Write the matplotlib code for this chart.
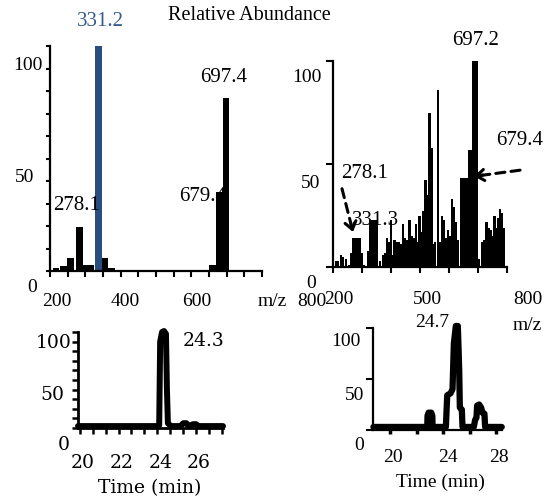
import matplotlib
matplotlib.use("Agg")
import matplotlib.pyplot as plt
import matplotlib.transforms as mtransforms
import numpy as np

plt.rcParams['font.family'] = 'Liberation Serif'

# panel A: product ion spectrum (precursor 331.2 highlighted)
a_mz = [217, 238, 259, 283, 300, 316, 356, 375, 395, 630, 660, 679, 698]
a_int = [1.3, 2.2, 6, 19.5, 2.7, 2.7, 6, 1.3, 0.5, 0.6, 2.7, 35, 77]
a_prec_mz = [336]
a_prec_int = [100]

# panel B: full spectrum
b_mz = [210, 218, 227, 235, 245, 256, 264, 271, 278, 285, 292, 299, 305,
        321, 329, 337, 344, 351, 361, 372, 378, 386, 393, 401, 406, 412,
        418, 426, 433, 441, 448, 455, 464, 471, 478, 485, 492, 498, 505,
        512, 519, 526, 533, 540, 547, 553, 562, 569, 576, 583, 590, 597,
        603, 610, 617, 624, 631, 641, 648, 655, 662, 670, 676, 683, 690,
        697, 704, 713, 720, 729, 736, 743, 750, 757, 763, 770, 777, 784, 791]
b_int = [3, 3, 6, 5, 4, 1, 7, 14, 14, 14, 14, 7, 1,
         8, 23, 23, 23, 23, 3, 6, 7, 14, 12, 23, 6, 13,
         12, 12, 11, 21, 14, 13, 23, 15, 14, 21, 12, 25, 17,
         27, 42, 35, 75, 58, 11, 12, 86, 12, 25, 23, 14, 18,
         15, 33, 29, 22, 13, 43, 43, 43, 43, 57, 57, 100, 100,
         100, 4, 12, 13, 22, 19, 18, 15, 25, 19, 24, 28, 26, 19]

# panel C: extracted ion chromatogram 24.3 min
c_time = [19.9, 24.0, 24.1, 24.15, 24.25, 24.35, 24.45, 24.5, 24.55, 24.7,
          25.2, 25.35, 25.5, 25.65, 25.85, 26.0, 26.15, 27.4]
c_int = [2, 2, 3, 90, 100, 101, 98, 40, 5, 2,
         2, 5, 5, 2, 4, 4, 2, 2]

# panel D: chromatogram 24.7 min
d_time = [18.75, 22.8, 22.82, 22.9, 23.1, 23.18, 23.2, 24.2, 24.3, 24.55,
          24.7, 24.8, 24.95, 25.1, 25.2, 25.25, 25.4, 25.45, 26.3, 26.4,
          26.5, 26.55, 26.7, 26.85, 26.95, 27.1, 27.15, 28.4]
d_int = [3, 3, 14, 17, 17, 14, 3, 3, 34, 36,
         40, 85, 102, 102, 60, 22, 20, 3, 3, 10,
         12, 24, 25, 22, 17, 16, 3, 3]

W, H = 547, 499
fig = plt.figure(figsize=(W / 100, H / 100), dpi=100)


def px_axes(x0, y0, x1, y1):
    ax = fig.add_axes([x0 / W, 1 - y1 / H, (x1 - x0) / W, (y1 - y0) / H])
    ax.spines['top'].set_visible(False)
    ax.spines['right'].set_visible(False)
    return ax


def put(ax, x, y, s, dx=0, dy=0, trans=None, **kw):
    base = ax.transData if trans is None else trans
    tr = mtransforms.offset_copy(base, fig=fig, x=dx, y=dy, units='dots')
    kw.setdefault('ha', 'center')
    kw.setdefault('va', 'center')
    return ax.text(x, y, s, transform=tr, clip_on=False, **kw)


def ticklabels(ax, xlabels, ylabels, **kw):
    for val, dx, dy in xlabels:
        put(ax, val, 0, str(val), dx, dy, trans=ax.get_xaxis_transform(), **kw)
    for val, dx, dy in ylabels:
        put(ax, 0, val, str(val), dx, dy, trans=ax.get_yaxis_transform(), **kw)


def dashed_arrow(ax, start, end):
    ax.annotate('', xy=end, xytext=start, zorder=5,
                arrowprops=dict(arrowstyle='-', linestyle=(0, (3, 2)), lw=2.2,
                                color='black', shrinkA=0, shrinkB=0))
    back = (end[0] + 0.2 * (start[0] - end[0]), end[1] + 0.2 * (start[1] - end[1]))
    ax.annotate('', xy=end, xytext=back, zorder=5,
                arrowprops=dict(arrowstyle='->,head_length=0.55,head_width=0.4',
                                lw=2.2, color='black', shrinkA=0, shrinkB=0))


# ---- A
axA = px_axes(50, 46, 262, 271)
axA.bar(a_mz, a_int, width=19, color='black', zorder=2)
axA.bar(a_prec_mz, a_prec_int, width=20, color='#2b4c7e', zorder=2)
axA.set_xlim(200, 800)
axA.set_ylim(0, 100)
axA.set_xticks(np.arange(200, 801, 50))
axA.set_yticks(np.arange(0, 101, 10))
axA.set_xticklabels([])
axA.set_yticklabels([])
axA.tick_params(axis='x', length=4, width=1.5)
axA.tick_params(axis='y', length=3, width=1.5)
for s in ['left', 'bottom']:
    axA.spines[s].set_linewidth(1.6)
ticklabels(axA, [(200, 7, -31), (400, 5, -31), (600, 5, -31), (800, 50, -31)],
           [(100, -22, -19), (50, -25, -19), (0, -18, -17)], fontsize=14)
put(axA, 800, 0, 'm/z', 10, -31, trans=axA.get_xaxis_transform(), fontsize=14)
put(axA, 344, 110.7, '331.2', color='#355a8c', fontsize=15)
put(axA, 690, 85.8, '697.4', fontsize=15)
put(axA, 633, 32.9, '679.4', fontsize=15, zorder=1)
put(axA, 276, 29.3, '278.1', fontsize=15)

# ---- B
axB = px_axes(333, 61, 507, 267)
axB.bar(b_mz, b_int, width=7.6, color='black', linewidth=0, zorder=2)
axB.set_xlim(200, 800)
axB.set_ylim(0, 100)
axB.set_xticks(np.arange(200, 801, 100))
axB.set_yticks([0, 50, 100])
axB.set_xticklabels([])
axB.set_yticklabels([])
axB.tick_params(axis='x', length=4, width=1.5)
axB.tick_params(axis='y', length=5, width=1.5)
for s in ['left', 'bottom']:
    axB.spines[s].set_linewidth(1.6)
ticklabels(axB, [(200, 6, -32), (500, 7.5, -32), (800, 21, -32)],
           [(100, -26, -17), (50, -22, -20), (0, -22, -17)], fontsize=14)
put(axB, 800, 0, 'm/z', 20, -59, trans=axB.get_xaxis_transform(), fontsize=14)
put(axB, 690, 110, '697.2', fontsize=15)
put(axB, 845, 61.6, '679.4', fontsize=15)
put(axB, 310, 45.6, '278.1', fontsize=15)
put(axB, 348, 22.8, '331.3', fontsize=15, zorder=3)
dashed_arrow(axB, (231, 38), (269, 17))
dashed_arrow(axB, (845, 47), (686, 44))

# ---- C
axC = px_axes(78, 332, 223, 428)
axC.plot(c_time, c_int, color='black', lw=4.3, solid_joinstyle='round',
         solid_capstyle='round', clip_on=False, zorder=3)
axC.set_xlim(19.9, 27.4)
axC.set_ylim(0, 100)
axC.set_xticks(np.arange(20, 27.4, 2 / 3))
axC.set_yticks(np.arange(0, 101, 10))
axC.set_xticklabels([])
axC.set_yticklabels([])
axC.tick_params(axis='x', length=4, width=1.8)
axC.tick_params(axis='y', length=4, width=1.8)
for s in ['left', 'bottom']:
    axC.spines[s].set_linewidth(2)
serif_c = dict(family='DejaVu Serif', fontsize=13.5)
ticklabels(axC, [(20, 3, -35), (22, 3, -35), (24, 3, -35), (26, 3, -35)],
           [(100, -24, -11), (50, -26, -15), (0, -14, -17)], **serif_c)
put(axC, 23.6, 0, 'Time (min)', 0, -60, trans=axC.get_xaxis_transform(), **serif_c)
put(axC, 26.37, 90.6, '24.3', **serif_c)

# ---- D
axD = px_axes(373, 328, 502, 430)
axD.plot(d_time, d_int, color='black', lw=4.5, solid_joinstyle='round',
         solid_capstyle='round', clip_on=False, zorder=3)
axD.set_xlim(18.72, 28.42)
axD.set_ylim(0, 100)
axD.set_xticks([20, 22, 24, 26, 28])
axD.set_yticks([0, 50, 100])
axD.set_xticklabels([])
axD.set_yticklabels([])
axD.tick_params(axis='x', length=3, width=2.5)
axD.tick_params(axis='y', length=5, width=1.5)
for s in ['left', 'bottom']:
    axD.spines[s].set_linewidth(1.6)
ticklabels(axD, [(20, 3, -28), (24, 5, -28), (28, 3, -28)],
           [(100, -27, -14), (50, -18, -17), (0, -14, -15)], fontsize=14)
put(axD, 23.76, 0, 'Time (min)', 0, -52, trans=axD.get_xaxis_transform(), fontsize=14)
put(axD, 23.2, 105, '24.7', fontsize=14)

fig.text(249 / W, 1 - 15 / H, 'Relative Abundance', ha='center', va='center', fontsize=14.5)

fig.savefig('out.png', dpi=100)
